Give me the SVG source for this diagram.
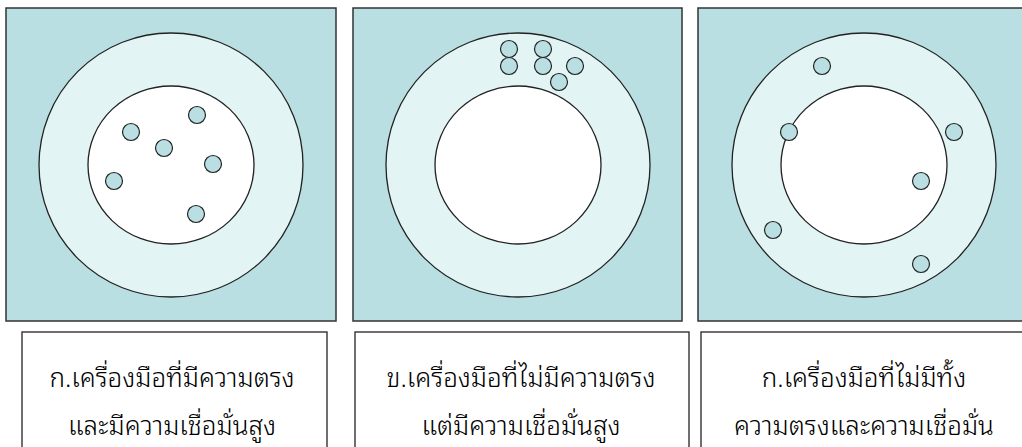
<svg xmlns="http://www.w3.org/2000/svg" width="1022" height="447" viewBox="0 0 1022 447">
<style>
.panel{fill:#B9DFE3;stroke:#333;stroke-width:1.5}
.ring{fill:#E3F4F5;stroke:#222;stroke-width:1.3}
.inner{fill:#FFFFFF;stroke:#222;stroke-width:1.3}
.dot{fill:#B9DFE3;stroke:#222;stroke-width:1.2}
.box{fill:#FFFFFF;stroke:#222;stroke-width:1.3}
.lbl{font-family:"Noto Sans Thai Looped","Noto Sans Thai","Noto Sans","DejaVu Sans",sans-serif;font-size:26px;font-weight:300;fill:#000;text-anchor:middle}
</style>
<rect width="1022" height="447" fill="#FFFFFF"/>
<g id="panel-a">
<rect class="panel" x="6" y="8" width="330" height="313"/>
<circle class="ring" cx="171" cy="165" r="132"/>
<ellipse class="inner" cx="171" cy="165" rx="83" ry="79"/>
<circle class="dot" cx="131" cy="132" r="8.5"/>
<circle class="dot" cx="197" cy="115" r="8.5"/>
<circle class="dot" cx="164" cy="148" r="8.5"/>
<circle class="dot" cx="213" cy="164" r="8.5"/>
<circle class="dot" cx="114" cy="181" r="8.5"/>
<circle class="dot" cx="196" cy="214" r="8.5"/>
</g>
<g id="panel-b">
<rect class="panel" x="353" y="8" width="329" height="313"/>
<circle class="ring" cx="518" cy="165" r="132"/>
<ellipse class="inner" cx="518" cy="165" rx="83" ry="79"/>
<circle class="dot" cx="509" cy="49" r="8.5"/>
<circle class="dot" cx="543" cy="49" r="8.5"/>
<circle class="dot" cx="509" cy="66" r="8.5"/>
<circle class="dot" cx="543" cy="66" r="8.5"/>
<circle class="dot" cx="575" cy="66" r="8.5"/>
<circle class="dot" cx="559" cy="82" r="8.5"/>
</g>
<g id="panel-c">
<rect class="panel" x="698" y="8" width="330" height="313"/>
<circle class="ring" cx="864" cy="165" r="132"/>
<ellipse class="inner" cx="864" cy="165" rx="83" ry="79"/>
<circle class="dot" cx="822" cy="66" r="8.5"/>
<circle class="dot" cx="789" cy="132" r="8.5"/>
<circle class="dot" cx="954" cy="132" r="8.5"/>
<circle class="dot" cx="921" cy="181" r="8.5"/>
<circle class="dot" cx="773" cy="230" r="8.5"/>
<circle class="dot" cx="921" cy="264" r="8.5"/>
</g>
<g id="label-a">
<rect class="box" x="22" y="332" width="305" height="125"/>
<text class="lbl" x="172" y="387">ก.เครื่องมือที่มีความตรง</text>
<text class="lbl" x="172" y="435">และมีความเชื่อมั่นสูง</text>
</g>
<g id="label-b">
<rect class="box" x="355" y="332" width="334" height="125"/>
<text class="lbl" x="521" y="387">ข.เครื่องมือที่ไม่มีความตรง</text>
<text class="lbl" x="521" y="435">แต่มีความเชื่อมั่นสูง</text>
</g>
<g id="label-c">
<rect class="box" x="701" y="332" width="330" height="125"/>
<text class="lbl" x="864" y="387">ก.เครื่องมือที่ไม่มีทั้ง</text>
<text class="lbl" x="864" y="435">ความตรงและความเชื่อมั่น</text>
</g>
</svg>
